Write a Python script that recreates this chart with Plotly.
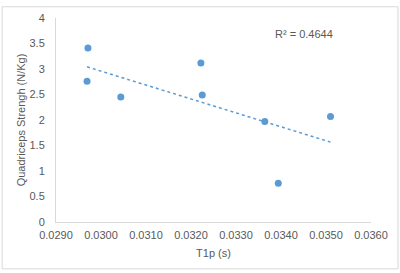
import numpy as np
import plotly.graph_objects as go

t1p = [0.02971, 0.02969, 0.03044, 0.03222, 0.03225, 0.03364, 0.03510, 0.03394]
strength = [3.41, 2.76, 2.45, 3.12, 2.49, 1.97, 2.07, 0.76]
x_ticks = [0.029, 0.030, 0.031, 0.032, 0.033, 0.034, 0.035, 0.036]
x_tick_labels = ["0.0290", "0.0300", "0.0310", "0.0320", "0.0330", "0.0340", "0.0350", "0.0360"]
y_ticks = [0, 0.5, 1, 1.5, 2, 2.5, 3, 3.5, 4]
y_tick_labels = ["0", "0.5", "1", "1.5", "2", "2.5", "3", "3.5", "4"]
r2_label = "R² = 0.4644"

blue = "#5B9BD5"
gray_text = "#595959"

slope, intercept = np.polyfit(t1p, strength, 1)
tx = np.array([min(t1p), max(t1p)])
ty = slope * tx + intercept

fig = go.Figure()
fig.add_trace(go.Scatter(x=tx, y=ty, mode="lines",
                         line=dict(color=blue, width=1.5, dash="dot"),
                         hoverinfo="skip", showlegend=False))
fig.add_trace(go.Scatter(x=t1p, y=strength, mode="markers",
                         marker=dict(color=blue, size=7),
                         showlegend=False))

font = dict(family="Liberation Sans, Arial, sans-serif", size=11, color=gray_text)

fig.update_layout(
    width=400, height=273,
    margin=dict(l=56, r=29, t=13, b=51),
    paper_bgcolor="white", plot_bgcolor="white",
    font=font,
    xaxis=dict(range=[0.029, 0.036], tickvals=x_ticks, ticktext=x_tick_labels,
               showgrid=False, zeroline=False, showline=True, linecolor="#D9D9D9",
               linewidth=1, ticks="", tickfont=font, ticklabelstandoff=3,
               title=dict(text="T1p (s)", font=font, standoff=9)),
    yaxis=dict(range=[0, 4], tickvals=y_ticks, ticktext=y_tick_labels,
               showgrid=False, zeroline=False, showline=True, linecolor="#D9D9D9",
               linewidth=1, ticks="", tickfont=font, ticklabelstandoff=8,
               title=dict(text="Quadriceps Strengh (N/Kg)", font=font, standoff=1)),
    annotations=[dict(text=r2_label, x=0.0345, y=3.69, xref="x", yref="y",
                      showarrow=False, xanchor="center",
                      font=dict(family=font["family"], size=11, color=gray_text))],
    shapes=[dict(type="rect", xref="paper", yref="paper",
                 x0=-0.171, x1=1.0857, y0=-0.2297, y1=1.055,
                 line=dict(color="#D9D9D9", width=1), fillcolor="rgba(0,0,0,0)", layer="below")],
)

fig.write_html("out.html", config={"displayModeBar": False},
               post_script="document.body.style.margin='0';document.body.style.overflow='hidden';")
